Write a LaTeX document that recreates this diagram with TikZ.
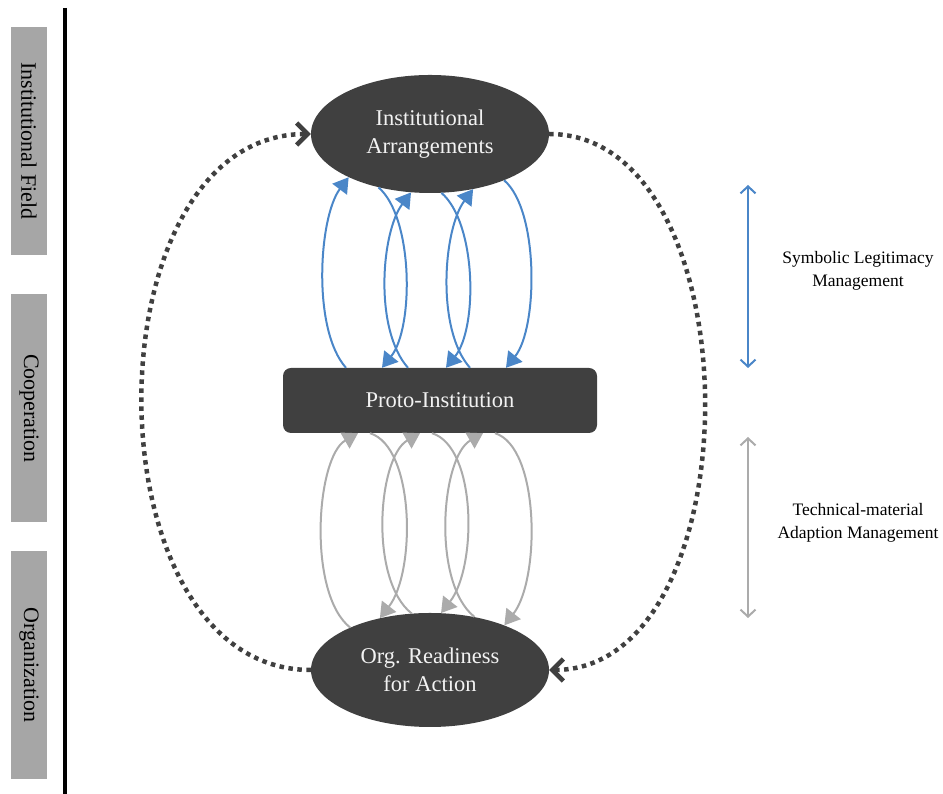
\documentclass[tikz,border=0pt]{standalone}
\usepackage{fontspec}
\setmainfont{Liberation Serif}
\usetikzlibrary{arrows.meta,shapes.geometric}
\definecolor{nodegray}{HTML}{404040}
\definecolor{bargray}{HTML}{A6A6A6}
\definecolor{loopblue}{HTML}{4A86C8}
\definecolor{loopgray}{HTML}{ABABAB}
\definecolor{txtlight}{HTML}{F2F2F2}
\begin{document}
\begin{tikzpicture}[x=1pt,y=1pt,
  darkellipse/.style={ellipse, fill=nodegray, minimum width=238pt, minimum height=118pt, inner sep=0pt, text=txtlight, align=center, font=\fontsize{22.5}{28}\selectfont},
  darkrect/.style={rectangle, rounded corners=8pt, fill=nodegray, minimum width=314pt, minimum height=65pt, inner sep=0pt, text=txtlight, font=\fontsize{22.5}{28}\selectfont},
  levelbar/.style={rectangle, fill=bargray, rotate=-90, minimum width=228pt, minimum height=36pt, inner sep=0pt, font=\fontsize{22}{26}\selectfont},
  sidelabel/.style={align=center, inner sep=0pt, font=\fontsize{17.5}{23}\selectfont},
  bluearc/.style={draw=loopblue, line width=2pt, -{Triangle[length=15pt 0 1,width=18pt 0 1]}},
  grayarc/.style={draw=loopgray, line width=2pt, -{Triangle[length=15pt 0 1,width=18pt 0 1]}},
  cycleline/.style={draw=nodegray, line width=4.5pt, dash pattern=on 4.5pt off 4.5pt, -{Straight Barb[length=11pt 0 1,width=22pt 0 1]}},
  scalearrow/.style={line width=2pt, {Straight Barb[length=7pt 0 1,width=15pt 0 1]}-{Straight Barb[length=7pt 0 1,width=15pt 0 1]}}
]
\useasboundingbox (0,0) rectangle (943,794);

% left level bars
\node[levelbar] (barfield) at (29,653) {Institutional Field};
\node[levelbar] (barcoop) at (29,385.5) {Cooperation};
\node[levelbar] (barorg) at (29,129) {Organization};
\coordinate (vtop) at (65,786);
\coordinate (vbot) at (65,0);
\draw[line width=4pt] (vtop) -- (vbot);

% main nodes
\node[darkellipse] (IA) at (430,660) {Institutional\\Arrangements};
\node[darkrect] (PI) at (440,393.5) {Proto-Institution};
\node[darkellipse, minimum height=114pt] (OR) at (430,124) {Org. Readiness\\for Action};

% outer dotted cycle
\draw[cycleline] (OR.west) .. controls +(-225,0) and +(-225,0) .. (IA.west);
\draw[cycleline] (IA.east) .. controls +(207,0) and +(207,0) .. (OR.east);

% blue loops (Proto-Institution <-> Institutional Arrangements)
\draw[bluearc] ([xshift=-94pt]PI.north) .. controls +(-34,38) and +(-30,-40) .. (IA.208.6);
\draw[bluearc] (IA.226.9) .. controls +(35,-30) and +(32,40) .. ([xshift=-58pt]PI.north);
\draw[bluearc] ([xshift=-32pt]PI.north) .. controls +(-34,38) and +(-30,-40) .. (IA.252.8);
\draw[bluearc] (IA.281.6) .. controls +(35,-30) and +(32,40) .. ([xshift=6pt]PI.north);
\draw[bluearc] ([xshift=30pt]PI.north) .. controls +(-34,38) and +(-30,-40) .. (IA.308.8);
\draw[bluearc] (IA.328.0) .. controls +(35,-30) and +(32,40) .. ([xshift=66pt]PI.north);

% gray loops (Org. Readiness <-> Proto-Institution)
\draw[grayarc] (OR.152.7) .. controls +(-43,34) and +(-42,-24) .. ([xshift=-82pt]PI.south);
\draw[grayarc] ([xshift=-70pt]PI.south) .. controls +(45,-14) and +(36,46) .. (OR.134.7);
\draw[grayarc] (OR.108.6) .. controls +(-43,34) and +(-42,-24) .. ([xshift=-20pt]PI.south);
\draw[grayarc] ([xshift=-8pt]PI.south) .. controls +(45,-14) and +(36,46) .. (OR.79.0);
\draw[grayarc] (OR.50.3) .. controls +(-43,34) and +(-42,-24) .. ([xshift=43pt]PI.south);
\draw[grayarc] ([xshift=55pt]PI.south) .. controls +(45,-14) and +(36,46) .. (OR.31.1);

% right-hand scales
\coordinate (slmtop) at (748,609);
\coordinate (slmbot) at (748,426);
\draw[scalearrow, draw=loopblue] (slmtop) -- (slmbot);
\node[sidelabel] (slm) at (858,523) {Symbolic Legitimacy\\Management};
\coordinate (tamtop) at (748,357);
\coordinate (tambot) at (748,176);
\draw[scalearrow, draw=loopgray] (tamtop) -- (tambot);
\node[sidelabel] (tam) at (858,271) {Technical-material\\Adaption Management};
\end{tikzpicture}
\end{document}
